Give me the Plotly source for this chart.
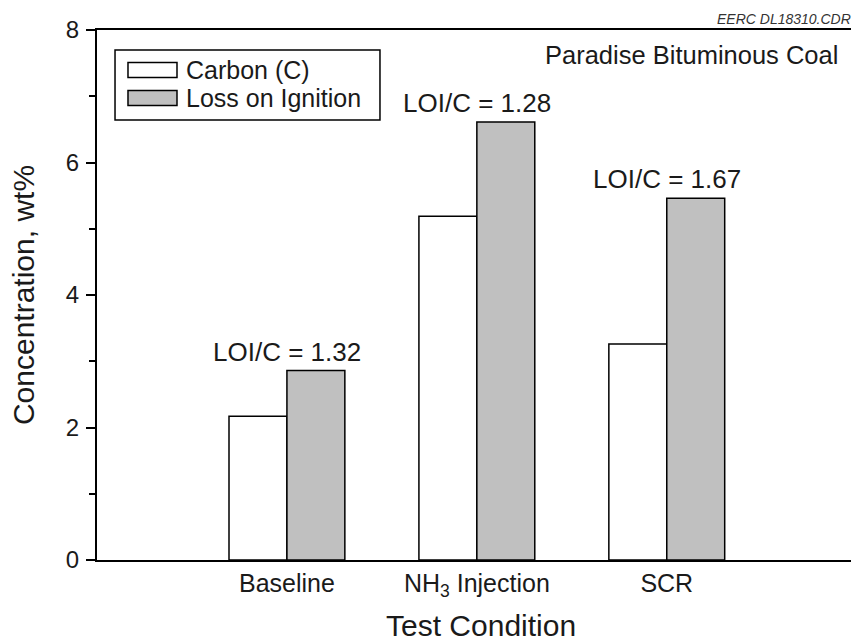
import plotly.graph_objects as go

conditions = ["Baseline", "NH<sub>3</sub> Injection", "SCR"]
carbon = [2.17, 5.19, 3.26]
loi = [2.86, 6.61, 5.46]
ratio_labels = ["LOI/C = 1.32", "LOI/C = 1.28", "LOI/C = 1.67"]
y_ticks = [0, 2, 4, 6, 8]

FONT = "Liberation Sans, Arial, Helvetica, sans-serif"
INK = "#1a1a1a"
GRAY = "#c0c0c0"

fig = go.Figure()
fig.add_trace(go.Bar(
    name="Carbon (C)", x=conditions, y=carbon,
    marker=dict(color="white", line=dict(color="black", width=1.5)),
    showlegend=False,
))
fig.add_trace(go.Bar(
    name="Loss on Ignition", x=conditions, y=loi,
    marker=dict(color=GRAY, line=dict(color="black", width=1.5)),
    showlegend=False,
))

# ratio labels above each LOI bar
for cond, val, lab in zip(conditions, loi, ratio_labels):
    fig.add_annotation(x=cond, y=val, text=lab, showarrow=False,
                       yanchor="bottom", yshift=2,
                       font=dict(family=FONT, size=26, color=INK))

# boxed legend drawn in paper space
fig.add_shape(type="rect", xref="paper", yref="paper",
              x0=0.0239, x1=0.3753, y0=0.8302, y1=0.9623,
              line=dict(color="black", width=1.5), fillcolor="white")
legend_items = [("Carbon (C)", "white", 0.9245), ("Loss on Ignition", GRAY, 0.8717)]
for text, fill, yc in legend_items:
    fig.add_shape(type="rect", xref="paper", yref="paper",
                  x0=0.0411, x1=0.1061, y0=yc - 0.0142, y1=yc + 0.0142,
                  line=dict(color="black", width=1.5), fillcolor=fill)
    fig.add_annotation(xref="paper", yref="paper", x=0.116, y=yc,
                       text=text, showarrow=False, xanchor="left", yanchor="middle",
                       font=dict(family=FONT, size=25, color=INK))

fig.add_annotation(xref="paper", yref="paper", x=0.986, y=0.953,
                   text="Paradise Bituminous Coal", showarrow=False,
                   xanchor="right", yanchor="middle",
                   font=dict(family=FONT, size=25.5, color=INK))
fig.add_annotation(xref="paper", yref="paper", x=1.003, y=1.0, yshift=1,
                   text="<i>EERC DL18310.CDR</i>", showarrow=False,
                   xanchor="right", yanchor="bottom",
                   font=dict(family=FONT, size=14, color="#333"))

# x-axis title, placed low in the bottom margin
fig.add_annotation(xref="paper", yref="paper", x=0.509, y=0, yshift=-65,
                   text="Test Condition", showarrow=False,
                   xanchor="center", yanchor="middle",
                   font=dict(family=FONT, size=30, color=INK))

fig.update_layout(
    width=854, height=640,
    margin=dict(l=97, r=3, t=30, b=80),
    paper_bgcolor="white", plot_bgcolor="white",
    barmode="group", bargap=0.39, bargroupgap=0,
    font=dict(family=FONT, color=INK),
)
fig.update_xaxes(
    range=[-1.0, 2.97], showgrid=False, zeroline=False,
    showline=True, linecolor="black", linewidth=2, mirror=True,
    ticks="", tickfont=dict(size=25), automargin=False,
)
fig.update_yaxes(
    range=[0, 8], tickvals=y_ticks, showgrid=False, zeroline=False,
    showline=True, linecolor="black", linewidth=2,
    ticks="outside", ticklen=9, tickwidth=1.5, tickcolor="black",
    tickfont=dict(size=24), ticklabelstandoff=2, automargin=False,
    minor=dict(dtick=1, ticks="outside", ticklen=6, tickwidth=1.5, tickcolor="black"),
    title=dict(text="Concentration, wt%", font=dict(size=30), standoff=22),
)

fig.write_html("out.html")
